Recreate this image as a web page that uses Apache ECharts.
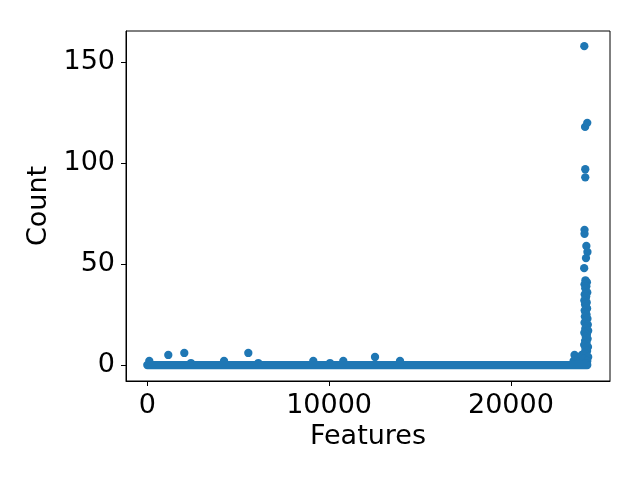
<!DOCTYPE html>
<html>
<head>
<meta charset="utf-8">
<script src="https://cdn.jsdelivr.net/npm/echarts@6/dist/echarts.min.js"></script>
<style>
  html, body { margin: 0; padding: 0; background: #fff; }
  #chart { width: 640px; height: 480px; }
</style>
</head>
<body>
<div id="chart"></div>
<script>
// tick values
const xTicks = [0, 10000, 20000];
const yTicks = [0, 50, 100, 150];

// dense row of features with count 0 (thousands of points, drawn as one band)
const zeroBand = [[0, 0], [24200, 0]];

// scattered small counts along the row
const lowPoints = [
  [110, 2], [1155, 5], [2035, 6], [2400, 1], [4220, 2], [5556, 6],
  [6105, 1], [9130, 2], [10050, 1], [10780, 2], [12525, 4], [13900, 2],
  [23450, 2], [23500, 5], [23550, 1], [23600, 4], [23700, 3], [23800, 2], [23900, 5]
];

// the column of high counts at the end of the feature range
const highPoints = [
  [24037, 158], [24080, 118], [24200, 120], [24090, 97], [24090, 93],
  [24050, 67], [24050, 65], [24150, 59], [24210, 56], [24130, 53], [24030, 48],
  [24100, 42], [24180, 41], [24050, 40], [24150, 39], [24090, 38], [24200, 36],
  [24060, 35], [24140, 34], [24110, 33], [24040, 32], [24170, 31], [24080, 30],
  [24130, 29], [24190, 28], [24060, 27], [24110, 26], [24160, 25], [24070, 24],
  [24210, 23], [24120, 22], [24050, 21], [24230, 20], [24140, 19], [24090, 18],
  [24250, 17], [24040, 16], [24180, 15], [24120, 14], [24220, 13], [24080, 12],
  [24160, 11], [24030, 10], [24240, 9], [24100, 8], [24190, 7], [24050, 6],
  [24150, 5], [24250, 4], [24000, 3], [24200, 2], [24100, 1]
];

const blue = "#1f77b4";
const font = "DejaVu Sans";
const plain = (v) => String(v);

const chart = echarts.init(document.getElementById("chart"), null, { renderer: "canvas" });
chart.setOption({
  animation: false,
  grid: {
    left: 126, right: 30, top: 31, bottom: 99,
    show: true, borderColor: "#000", borderWidth: 1, backgroundColor: "transparent"
  },
  xAxis: {
    type: "value",
    min: -1172, max: 25451,
    name: "Features",
    nameLocation: "middle",
    nameGap: 42,
    nameTextStyle: { fontFamily: font, fontSize: 27, color: "#000" },
    axisLine: { show: true, onZero: false, lineStyle: { color: "#000", width: 1 } },
    axisTick: { show: true, length: 5, lineStyle: { color: "#000" }, customValues: xTicks },
    axisLabel: { fontFamily: font, fontSize: 27, color: "#000", margin: 11, formatter: plain, customValues: xTicks },
    splitLine: { show: false }
  },
  yAxis: {
    type: "value",
    min: -7.9, max: 165.5,
    name: "Count",
    nameLocation: "middle",
    nameGap: 68,
    nameTextStyle: { fontFamily: font, fontSize: 27, color: "#000" },
    axisLine: { show: true, onZero: false, lineStyle: { color: "#000", width: 1 } },
    axisTick: { show: true, length: 5, lineStyle: { color: "#000" }, customValues: yTicks },
    axisLabel: { fontFamily: font, fontSize: 27, color: "#000", margin: 11, padding: [3, 0, 0, 0], formatter: plain, customValues: yTicks },
    splitLine: { show: false }
  },
  series: [
    {
      type: "line",
      data: zeroBand,
      showSymbol: false,
      lineStyle: { color: blue, width: 8.3, cap: "round" },
      silent: true
    },
    {
      type: "scatter",
      data: lowPoints,
      symbolSize: 8.3,
      itemStyle: { color: blue, opacity: 1 }
    },
    {
      type: "scatter",
      data: highPoints,
      symbolSize: 8.3,
      itemStyle: { color: blue, opacity: 1 }
    }
  ]
});
</script>
</body>
</html>
